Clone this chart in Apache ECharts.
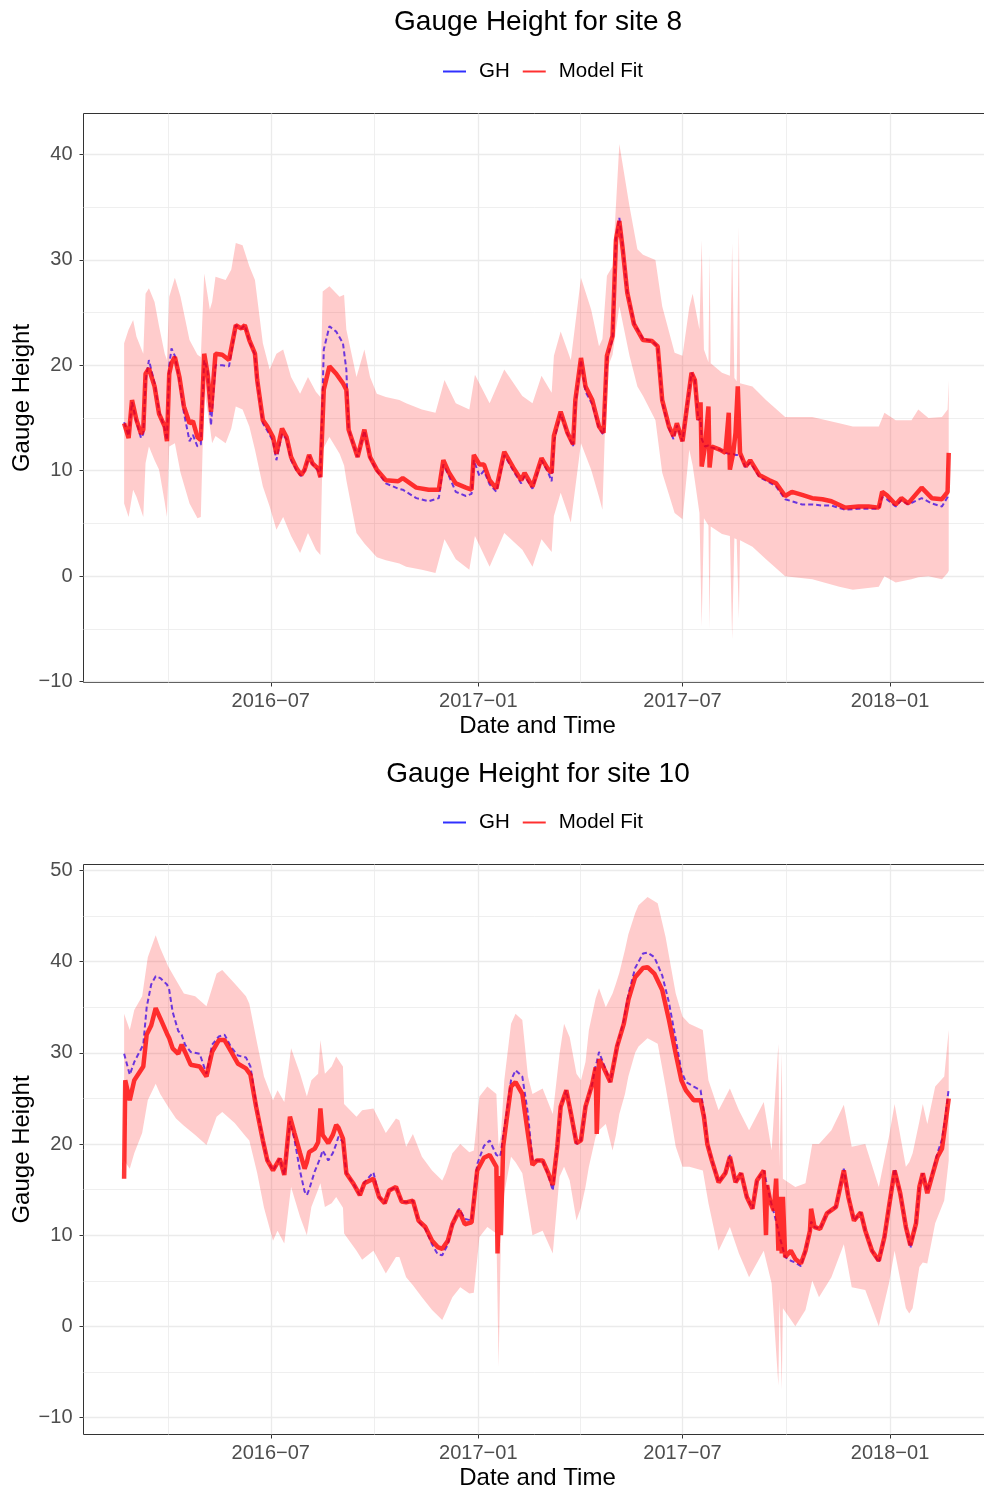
<!DOCTYPE html>
<html>
<head>
<meta charset="utf-8">
<title>Gauge Height</title>
<script src="https://cdn.jsdelivr.net/npm/echarts@6/dist/echarts.min.js"></script>
<style>
    html, body { margin: 0; padding: 0; background: #ffffff; }
    #chart { width: 984px; height: 1491px; }
</style>
</head>
<body>
<div id="chart"></div>
<script>
// ---- site 8 : gauge height and model fit ----
var site8Dates = [
    '2016-02-22', '2016-02-26', '2016-02-29', '2016-03-04', '2016-03-08', '2016-03-10', '2016-03-12', '2016-03-15', '2016-03-20', '2016-03-24',
    '2016-03-29', '2016-03-31', '2016-04-02', '2016-04-04', '2016-04-07', '2016-04-11', '2016-04-15', '2016-04-20', '2016-04-23', '2016-04-27',
    '2016-04-30', '2016-05-03', '2016-05-06', '2016-05-09', '2016-05-13', '2016-05-19', '2016-05-25', '2016-05-31', '2016-06-05', '2016-06-08',
    '2016-06-12', '2016-06-17', '2016-06-19', '2016-06-24', '2016-06-28', '2016-07-03', '2016-07-06', '2016-07-11', '2016-07-15', '2016-07-19',
    '2016-07-24', '2016-07-28', '2016-07-31', '2016-08-04', '2016-08-07', '2016-08-12', '2016-08-14', '2016-08-17', '2016-08-22', '2016-08-28',
    '2016-09-03', '2016-09-06', '2016-09-08', '2016-09-12', '2016-09-16', '2016-09-22', '2016-09-27', '2016-10-03', '2016-10-11', '2016-10-22',
    '2016-10-26', '2016-11-07', '2016-11-18', '2016-11-27', '2016-12-01', '2016-12-06', '2016-12-12', '2016-12-21', '2016-12-26', '2016-12-28',
    '2017-01-02', '2017-01-06', '2017-01-11', '2017-01-17', '2017-01-24', '2017-02-01', '2017-02-08', '2017-02-11', '2017-02-18', '2017-02-26',
    '2017-03-04', '2017-03-07', '2017-03-09', '2017-03-15', '2017-03-21', '2017-03-26', '2017-03-28', '2017-04-02', '2017-04-06', '2017-04-12',
    '2017-04-18', '2017-04-22', '2017-04-25', '2017-04-30', '2017-05-03', '2017-05-06', '2017-05-09', '2017-05-13', '2017-05-19', '2017-05-27',
    '2017-06-04', '2017-06-09', '2017-06-13', '2017-06-19', '2017-06-23', '2017-06-26', '2017-07-01', '2017-07-05', '2017-07-09', '2017-07-12',
    '2017-07-15', '2017-07-17', '2017-07-18', '2017-07-21', '2017-07-24', '2017-07-25', '2017-07-27', '2017-08-03', '2017-08-08', '2017-08-11',
    '2017-08-12', '2017-08-15', '2017-08-17', '2017-08-19', '2017-08-21', '2017-08-26', '2017-08-30', '2017-09-07', '2017-09-16', '2017-09-22',
    '2017-09-30', '2017-10-06', '2017-10-15', '2017-10-24', '2017-11-02', '2017-11-10', '2017-11-22', '2017-12-04', '2017-12-13', '2017-12-22',
    '2017-12-25', '2017-12-29', '2018-01-06', '2018-01-11', '2018-01-17', '2018-01-29', '2018-02-07', '2018-02-16', '2018-02-21', '2018-02-22'
];
var site8Fit = [
    14.5, 13.1, 16.7, 14.8, 13.5, 13.9, 19.2, 19.7, 18.0, 15.4,
    14.2, 12.8, 19.2, 20.2, 20.8, 18.9, 16.1, 14.5, 14.7, 13.2,
    12.9, 21.1, 19.2, 15.6, 21.1, 21.0, 20.5, 23.8, 23.5, 23.8,
    22.4, 21.1, 18.6, 14.8, 14.2, 13.2, 11.6, 14.0, 13.2, 11.3,
    10.2, 9.6, 10.1, 11.5, 10.7, 10.2, 9.4, 17.7, 19.9, 19.2,
    18.3, 17.7, 13.9, 12.6, 11.3, 13.9, 11.3, 10.1, 9.1, 9.0,
    9.3, 8.4, 8.2, 8.2, 11.0, 9.8, 8.8, 8.4, 8.2, 11.5,
    10.6, 10.6, 9.1, 8.3, 11.8, 10.3, 9.1, 9.8, 8.5, 11.2,
    10.1, 9.8, 13.3, 15.6, 13.6, 12.5, 16.7, 20.7, 18.0, 16.7,
    14.2, 13.6, 20.9, 22.8, 31.9, 33.7, 31.0, 26.9, 23.9, 22.4,
    22.3, 21.8, 16.7, 14.2, 13.3, 14.5, 12.8, 16.1, 19.3, 18.6,
    14.8, 16.5, 10.4, 12.3, 16.1, 10.3, 12.3, 12.0, 11.7, 15.5,
    10.1, 11.7, 13.6, 18.0, 11.7, 10.4, 11.0, 9.6, 9.1, 8.8,
    7.6, 8.0, 7.7, 7.4, 7.3, 7.1, 6.5, 6.6, 6.6, 6.5,
    8.0, 7.7, 6.8, 7.4, 6.9, 8.4, 7.4, 7.3, 8.0, 11.7
];
var site8GH = [
    14.6, 13.3, 16.5, 14.6, 13.1, 13.5, 18.5, 20.5, 18.3, 15.6,
    14.0, 12.9, 20.0, 21.6, 20.9, 18.6, 15.5, 12.8, 13.4, 12.3,
    12.5, 20.5, 19.5, 14.3, 20.0, 20.0, 19.9, 23.8, 23.5, 23.8,
    22.3, 21.0, 18.5, 14.5, 13.8, 12.8, 11.0, 13.5, 13.0, 11.0,
    10.0, 9.5, 10.0, 11.4, 10.6, 10.0, 9.4, 21.5, 23.7, 23.2,
    22.1, 19.6, 14.0, 12.5, 11.3, 13.8, 11.2, 10.0, 8.8, 8.3,
    8.2, 7.4, 7.1, 7.4, 10.6, 9.5, 8.0, 7.6, 7.8, 11.0,
    9.5, 10.0, 8.7, 8.0, 11.5, 10.0, 8.8, 9.5, 8.3, 11.0,
    9.8, 9.0, 12.8, 15.4, 13.5, 12.3, 16.3, 20.5, 17.5, 16.3,
    14.0, 13.4, 20.6, 22.5, 32.0, 34.0, 31.2, 27.0, 24.0, 22.5,
    22.3, 21.8, 16.5, 14.0, 13.0, 14.3, 12.8, 16.1, 19.3, 18.6,
    14.8, 15.0, 13.0, 12.3, 12.4, 12.2, 12.2, 12.0, 11.7, 11.6,
    11.6, 11.6, 11.5, 11.5, 11.5, 10.3, 10.8, 9.4, 8.9, 8.5,
    7.3, 7.1, 6.8, 6.8, 6.7, 6.7, 6.3, 6.4, 6.4, 6.4,
    7.5, 7.3, 6.6, 7.2, 6.8, 7.4, 6.9, 6.6, 7.5, 7.8
];
// prediction band for site 8
var site8BandDates = [
    '2016-02-22', '2016-02-26', '2016-03-01', '2016-03-04', '2016-03-10', '2016-03-12', '2016-03-15', '2016-03-20', '2016-03-24', '2016-03-29',
    '2016-03-31', '2016-04-02', '2016-04-07', '2016-04-12', '2016-04-20', '2016-04-27', '2016-04-30', '2016-05-03', '2016-05-08', '2016-05-10',
    '2016-05-13', '2016-05-22', '2016-05-27', '2016-05-31', '2016-06-06', '2016-06-12', '2016-06-17', '2016-06-24', '2016-06-30', '2016-07-06',
    '2016-07-12', '2016-07-19', '2016-07-27', '2016-08-03', '2016-08-10', '2016-08-14', '2016-08-16', '2016-08-22', '2016-08-31', '2016-09-04',
    '2016-09-06', '2016-09-15', '2016-09-22', '2016-09-27', '2016-10-03', '2016-10-11', '2016-10-23', '2016-10-29', '2016-11-12', '2016-11-24',
    '2016-12-02', '2016-12-12', '2016-12-24', '2016-12-29', '2017-01-11', '2017-01-24', '2017-02-09', '2017-02-18', '2017-02-26', '2017-03-07',
    '2017-03-09', '2017-03-15', '2017-03-24', '2017-04-02', '2017-04-11', '2017-04-18', '2017-04-21', '2017-04-25', '2017-04-30', '2017-05-06',
    '2017-05-15', '2017-05-22', '2017-05-27', '2017-06-07', '2017-06-13', '2017-06-24', '2017-07-01', '2017-07-07', '2017-07-10', '2017-07-16',
    '2017-07-18', '2017-07-20', '2017-07-24', '2017-07-25', '2017-07-26', '2017-08-05', '2017-08-12', '2017-08-14', '2017-08-16', '2017-08-18',
    '2017-08-20', '2017-08-21', '2017-09-01', '2017-09-13', '2017-09-30', '2017-10-24', '2017-11-17', '2017-11-29', '2017-12-22', '2017-12-27',
    '2018-01-06', '2018-01-20', '2018-01-26', '2018-02-04', '2018-02-16', '2018-02-21', '2018-02-22'
];
var site8Lower = [
    6.9, 5.6, 8.2, 7.5, 5.6, 10.7, 12.3, 11.0, 10.1, 7.0,
    5.6, 12.3, 12.6, 9.8, 6.9, 5.5, 5.6, 17.7, 14.2, 12.6,
    13.3, 12.6, 14.0, 16.1, 15.8, 14.2, 12.0, 8.5, 6.6, 4.4,
    5.6, 3.8, 2.2, 4.1, 2.5, 2.0, 12.0, 13.2, 11.6, 10.5,
    9.1, 4.1, 3.1, 2.5, 1.8, 1.5, 1.2, 0.9, 0.6, 0.3,
    3.5, 1.6, 0.6, 3.8, 0.9, 4.1, 2.5, 0.9, 3.5, 2.3,
    5.7, 7.9, 5.1, 12.6, 10.1, 7.5, 6.3, 19.6, 21.0, 25.6,
    20.9, 18.0, 17.1, 14.8, 9.8, 6.0, 5.4, 12.0, 10.5, 6.0,
    -4.8, 5.5, 4.8, -5.1, 4.7, 4.0, 3.8, -6.0, 3.6, 3.5,
    -4.1, 3.4, 2.8, 1.6, 0.0, -0.3, -1.0, -1.3, -1.0, 0.0,
    -0.6, -0.3, -0.1, 0.0, -0.3, 0.3, 0.5
];
var site8Upper = [
    22.1, 23.4, 24.3, 22.7, 21.1, 26.8, 27.3, 26.0, 23.7, 21.1,
    20.5, 26.5, 28.3, 26.5, 22.4, 21.0, 20.8, 28.7, 25.3, 26.0,
    28.4, 28.1, 29.1, 31.6, 31.4, 29.4, 28.1, 22.1, 19.6, 21.1,
    21.5, 18.9, 17.3, 18.9, 17.5, 17.0, 27.0, 27.5, 26.5, 26.7,
    23.4, 18.9, 21.5, 18.9, 17.3, 17.0, 16.7, 16.4, 15.8, 15.5,
    18.6, 16.4, 15.8, 19.1, 16.4, 19.6, 17.1, 16.4, 19.0, 17.4,
    20.9, 23.2, 20.5, 28.3, 25.3, 21.8, 22.5, 28.5, 29.4, 41.0,
    35.1, 31.0, 30.5, 30.0, 25.6, 21.2, 20.9, 25.5, 26.8, 23.4,
    31.9, 21.5, 20.3, 30.6, 20.2, 19.3, 19.0, 31.6, 18.8, 18.5,
    33.2, 18.3, 18.0, 16.7, 15.1, 15.1, 14.5, 14.2, 14.2, 15.5,
    14.8, 14.8, 15.8, 15.0, 15.1, 15.8, 18.6
];

// ---- site 10 : gauge height and model fit ----
var site10Dates = [
    '2016-02-22', '2016-02-23', '2016-02-27', '2016-03-02', '2016-03-10', '2016-03-13', '2016-03-17', '2016-03-21', '2016-03-25', '2016-03-31',
    '2016-04-02', '2016-04-05', '2016-04-10', '2016-04-13', '2016-04-16', '2016-04-21', '2016-04-29', '2016-05-05', '2016-05-10', '2016-05-16',
    '2016-05-21', '2016-05-27', '2016-06-02', '2016-06-09', '2016-06-13', '2016-06-18', '2016-06-24', '2016-06-28', '2016-07-03', '2016-07-09',
    '2016-07-13', '2016-07-18', '2016-07-22', '2016-07-27', '2016-07-31', '2016-08-02', '2016-08-04', '2016-08-09', '2016-08-12', '2016-08-14',
    '2016-08-16', '2016-08-21', '2016-08-25', '2016-08-28', '2016-08-30', '2016-09-03', '2016-09-06', '2016-09-12', '2016-09-18', '2016-09-22',
    '2016-09-30', '2016-10-05', '2016-10-10', '2016-10-14', '2016-10-20', '2016-10-25', '2016-10-29', '2016-11-04', '2016-11-09', '2016-11-15',
    '2016-11-21', '2016-11-26', '2016-11-30', '2016-12-05', '2016-12-09', '2016-12-15', '2016-12-20', '2016-12-26', '2016-12-31', '2017-01-06',
    '2017-01-11', '2017-01-17', '2017-01-18', '2017-01-20', '2017-01-21', '2017-01-23', '2017-01-26', '2017-01-30', '2017-02-03', '2017-02-09',
    '2017-02-14', '2017-02-18', '2017-02-22', '2017-02-27', '2017-03-04', '2017-03-08', '2017-03-12', '2017-03-15', '2017-03-20', '2017-03-24',
    '2017-03-29', '2017-04-02', '2017-04-06', '2017-04-12', '2017-04-15', '2017-04-16', '2017-04-18', '2017-04-22', '2017-04-28', '2017-05-04',
    '2017-05-10', '2017-05-14', '2017-05-20', '2017-05-27', '2017-05-31', '2017-06-06', '2017-06-13', '2017-06-19', '2017-06-25', '2017-06-30',
    '2017-07-04', '2017-07-11', '2017-07-17', '2017-07-20', '2017-07-23', '2017-07-27', '2017-08-02', '2017-08-08', '2017-08-12', '2017-08-17',
    '2017-08-22', '2017-08-27', '2017-09-01', '2017-09-05', '2017-09-11', '2017-09-13', '2017-09-14', '2017-09-17', '2017-09-20', '2017-09-22',
    '2017-09-24', '2017-09-25', '2017-09-27', '2017-09-28', '2017-09-30', '2017-10-05', '2017-10-09', '2017-10-14', '2017-10-18', '2017-10-22',
    '2017-10-23', '2017-10-26', '2017-10-31', '2017-11-06', '2017-11-14', '2017-11-21', '2017-11-25', '2017-11-30', '2017-12-06', '2017-12-10',
    '2017-12-16', '2017-12-22', '2017-12-27', '2017-12-31', '2018-01-05', '2018-01-10', '2018-01-15', '2018-01-19', '2018-01-24', '2018-01-27',
    '2018-01-30', '2018-02-03', '2018-02-07', '2018-02-12', '2018-02-16', '2018-02-19', '2018-02-22'
];
var site10Fit = [
    16.2, 27.0, 24.8, 27.0, 28.5, 32.0, 33.0, 34.9, 33.8, 32.1,
    31.6, 30.5, 29.9, 30.9, 30.1, 28.7, 28.5, 27.4, 30.1, 31.4,
    31.4, 30.1, 28.8, 28.3, 27.6, 24.1, 20.4, 18.2, 17.1, 18.4,
    16.6, 23.0, 21.2, 19.0, 17.3, 18.0, 19.1, 19.5, 20.2, 23.9,
    21.0, 20.1, 21.0, 22.1, 21.8, 20.6, 16.8, 15.7, 14.4, 15.7,
    16.2, 14.2, 13.5, 14.9, 15.3, 13.7, 13.6, 13.8, 11.6, 10.9,
    9.4, 8.7, 8.5, 9.4, 11.2, 12.7, 11.2, 11.4, 17.1, 18.5,
    18.8, 17.5, 8.0, 16.5, 10.0, 19.7, 22.6, 26.3, 26.8, 25.5,
    21.1, 17.7, 18.2, 18.2, 16.8, 15.5, 19.7, 24.1, 25.9, 23.4,
    20.1, 20.4, 24.1, 26.6, 28.4, 21.1, 29.3, 28.4, 26.8, 30.7,
    33.2, 35.8, 38.3, 39.3, 39.4, 38.7, 36.9, 33.6, 29.9, 27.0,
    25.9, 24.8, 24.8, 23.0, 20.0, 18.2, 15.8, 16.8, 18.6, 15.8,
    16.8, 14.2, 12.9, 16.0, 17.1, 10.0, 15.5, 13.6, 12.7, 16.2,
    8.3, 14.2, 8.0, 14.2, 7.6, 8.3, 7.4, 6.9, 8.3, 10.5,
    12.9, 10.9, 10.7, 12.4, 13.1, 17.1, 14.2, 11.6, 12.5, 10.5,
    8.3, 7.2, 9.8, 13.1, 17.1, 14.6, 10.9, 8.9, 11.3, 15.3,
    16.8, 14.6, 16.4, 18.6, 19.5, 22.2, 25.0
];
var site10GH = [
    29.9, 29.9, 27.6, 29.0, 30.9, 35.0, 37.5, 38.4, 38.2, 37.5,
    36.9, 34.5, 32.4, 32.0, 30.9, 30.1, 29.9, 27.7, 30.9, 31.8,
    32.0, 30.6, 29.7, 29.5, 28.5, 24.4, 20.4, 18.2, 17.1, 18.4,
    16.6, 22.5, 20.5, 17.0, 14.8, 14.4, 15.0, 17.0, 17.9, 18.5,
    19.3, 18.2, 19.0, 20.0, 20.8, 20.2, 16.8, 15.7, 14.4, 15.8,
    16.9, 14.2, 13.5, 14.9, 15.3, 13.7, 13.6, 13.8, 11.5, 10.7,
    9.0, 7.9, 7.8, 9.0, 11.2, 12.9, 11.8, 11.6, 17.8, 19.8,
    20.4, 18.8, 18.6, 18.6, 19.0, 21.0, 23.3, 27.0, 28.1, 27.4,
    23.3, 18.2, 18.2, 18.2, 16.6, 14.9, 19.7, 24.1, 25.9, 23.4,
    20.0, 20.4, 24.1, 26.6, 28.6, 29.0, 30.1, 28.8, 26.8, 30.7,
    33.6, 36.4, 39.3, 40.9, 41.0, 40.5, 38.5, 35.5, 31.5, 28.0,
    26.8, 26.3, 25.9, 23.5, 20.2, 18.2, 15.8, 16.8, 18.8, 15.8,
    16.8, 14.2, 12.9, 16.0, 17.1, 16.0, 15.5, 13.8, 12.5, 11.5,
    10.5, 9.8, 9.0, 8.5, 7.6, 7.2, 7.0, 6.6, 8.3, 10.5,
    11.5, 10.9, 10.7, 12.4, 13.1, 17.3, 14.2, 11.6, 12.5, 10.5,
    8.3, 7.0, 9.8, 13.1, 17.3, 14.6, 10.9, 8.6, 11.3, 15.3,
    16.8, 14.8, 16.6, 19.0, 20.5, 23.0, 26.1
];
// prediction band for site 10
var site10BandDates = [
    '2016-02-22', '2016-02-27', '2016-03-02', '2016-03-09', '2016-03-14', '2016-03-21', '2016-03-25', '2016-04-01', '2016-04-08', '2016-04-15',
    '2016-04-25', '2016-05-05', '2016-05-14', '2016-05-19', '2016-05-30', '2016-06-09', '2016-06-12', '2016-06-19', '2016-06-25', '2016-07-03',
    '2016-07-07', '2016-07-13', '2016-07-19', '2016-07-27', '2016-08-02', '2016-08-06', '2016-08-12', '2016-08-14', '2016-08-18', '2016-08-24',
    '2016-08-28', '2016-09-03', '2016-09-04', '2016-09-15', '2016-09-20', '2016-09-30', '2016-10-11', '2016-10-20', '2016-10-23', '2016-10-29',
    '2016-11-04', '2016-11-12', '2016-11-21', '2016-11-30', '2016-12-03', '2016-12-09', '2016-12-16', '2016-12-24', '2016-12-28', '2017-01-02',
    '2017-01-09', '2017-01-17', '2017-01-19', '2017-01-21', '2017-01-24', '2017-01-30', '2017-02-03', '2017-02-09', '2017-02-14', '2017-02-18',
    '2017-02-27', '2017-03-08', '2017-03-14', '2017-03-18', '2017-03-23', '2017-03-29', '2017-04-02', '2017-04-06', '2017-04-09', '2017-04-15',
    '2017-04-18', '2017-04-24', '2017-04-30', '2017-05-03', '2017-05-06', '2017-05-11', '2017-05-14', '2017-05-20', '2017-05-23', '2017-05-31',
    '2017-06-09', '2017-06-16', '2017-06-25', '2017-07-01', '2017-07-07', '2017-07-19', '2017-07-24', '2017-08-02', '2017-08-12', '2017-08-20',
    '2017-08-29', '2017-09-11', '2017-09-18', '2017-09-24', '2017-09-25', '2017-09-27', '2017-09-28', '2017-10-09', '2017-10-18', '2017-10-24',
    '2017-10-30', '2017-11-10', '2017-11-21', '2017-11-28', '2017-12-10', '2017-12-22', '2017-12-31', '2018-01-05', '2018-01-15', '2018-01-18',
    '2018-01-21', '2018-01-27', '2018-01-30', '2018-02-03', '2018-02-10', '2018-02-18', '2018-02-22'
];
var site10Lower = [
    18.2, 17.3, 19.0, 21.2, 24.8, 26.6, 25.5, 24.1, 22.8, 22.0,
    21.0, 19.9, 23.0, 23.5, 22.3, 20.8, 20.4, 16.8, 13.0, 9.4,
    10.5, 9.1, 15.3, 12.0, 10.0, 13.1, 15.0, 15.7, 13.1, 13.5,
    14.2, 13.0, 10.2, 8.3, 7.3, 8.3, 5.8, 7.6, 7.6, 5.4,
    4.5, 3.2, 1.8, 0.7, 1.5, 3.2, 4.3, 3.6, 3.7, 9.8,
    10.9, 10.2, -4.5, 10.0, 14.6, 18.6, 18.0, 16.8, 13.0, 10.0,
    10.5, 8.0, 16.4, 17.5, 16.0, 11.6, 13.0, 15.3, 17.5, 20.8,
    21.5, 22.2, 19.3, 21.0, 23.3, 25.5, 27.4, 30.0, 30.7, 31.6,
    31.0, 26.3, 19.7, 17.5, 17.5, 17.1, 13.5, 8.3, 10.9, 8.0,
    5.4, 8.3, 4.7, -6.5, 3.0, -7.0, 2.0, 0.0, 1.8, 5.0,
    3.2, 5.4, 9.0, 4.3, 4.0, 0.0, 4.7, 8.3, 2.0, 1.4,
    2.0, 6.5, 7.0, 6.9, 11.3, 13.8, 18.2
];
var site10Upper = [
    34.3, 32.5, 34.7, 36.2, 40.5, 42.9, 41.5, 39.5, 38.0, 36.5,
    36.2, 35.1, 38.7, 39.1, 37.6, 36.2, 35.4, 31.0, 27.4, 24.8,
    25.9, 24.6, 30.5, 27.7, 25.2, 27.0, 27.7, 31.4, 27.7, 28.5,
    29.6, 28.5, 24.4, 23.0, 23.7, 23.9, 21.2, 22.8, 22.6, 19.7,
    21.1, 18.6, 17.1, 16.0, 16.8, 19.0, 20.0, 19.1, 19.3, 25.2,
    26.3, 25.5, 19.7, 21.0, 27.0, 33.2, 34.3, 33.6, 27.4, 25.5,
    26.1, 23.3, 29.9, 33.2, 31.7, 27.7, 27.0, 29.0, 32.5, 36.0,
    37.1, 35.0, 36.5, 37.6, 38.8, 41.3, 43.0, 45.3, 46.2, 47.1,
    46.4, 42.7, 36.5, 34.0, 33.2, 32.5, 27.0, 23.7, 26.1, 23.7,
    21.5, 24.6, 19.3, 31.0, 17.5, 30.0, 16.2, 15.3, 15.7, 20.0,
    20.0, 21.5, 24.3, 19.7, 20.0, 15.3, 20.8, 24.4, 17.5, 18.0,
    19.0, 22.5, 24.4, 22.2, 26.3, 27.4, 32.5
];

// ---- axes ----
var xMajorTicks = ['2016-07-01', '2017-01-01', '2017-07-01', '2018-01-01'];
var xMinorTicks = ['2016-04-01', '2016-10-01', '2017-04-01', '2017-10-01'];
var site8YTicks = [-10, 0, 10, 20, 30, 40];
var site8YMinor = [-5, 5, 15, 25, 35];
var site10YTicks = [-10, 0, 10, 20, 30, 40, 50];
var site10YMinor = [-5, 5, 15, 25, 35, 45];

var X_MIN = '2016-01-17';
var X_MAX = '2018-04-08';
var FONT = '"Liberation Sans", Arial, Helvetica, sans-serif';
var GRID_LINE = '#EBEBEB';
var GH_COLOR = 'rgba(70, 15, 225, 0.8)';
var FIT_COLOR = 'rgba(255, 0, 0, 0.78)';

// dates are read as UTC midnight; the same millisecond values feed the time axis and the tick axes
function toTime(s) {
    return Date.parse(s + 'T00:00:00Z');
}

function pairs(dates, values) {
    return dates.map(function (d, i) { return [toTime(d), values[i]]; });
}

function bandSpread(lower, upper) {
    return upper.map(function (u, i) { return Math.round((u - lower[i]) * 100) / 100; });
}

function dateLabel(value) {
    var d = new Date(value);
    var m = d.getUTCMonth() + 1;
    return d.getUTCFullYear() + '\u2212' + (m < 10 ? '0' + m : m);
}

function numLabel(value) {
    return value < 0 ? '\u2212' + Math.abs(value) : String(value);
}

// per grid: a hidden time axis carrying the series, then a value axis for major ticks/labels and one for minor grid lines
function xAxes(gridIndex) {
    var min = toTime(X_MIN), max = toTime(X_MAX);
    return [{
        type: 'time',
        gridIndex: gridIndex,
        min: min,
        max: max,
        axisLine: { show: false, onZero: false },
        axisTick: { show: false },
        axisLabel: { show: false },
        splitLine: { show: false }
    }, {
        type: 'value',
        gridIndex: gridIndex,
        position: 'bottom',
        min: min,
        max: max,
        axisLine: { show: false, onZero: false },
        axisTick: { show: true, customValues: xMajorTicks.map(toTime), length: 4, lineStyle: { color: '#333333', width: 1 } },
        axisLabel: { customValues: xMajorTicks.map(toTime), formatter: dateLabel, color: '#4D4D4D', fontSize: 20, margin: 9, fontFamily: FONT },
        splitLine: { show: true, lineStyle: { color: GRID_LINE, width: 1.3 } },
        name: 'Date and Time',
        nameLocation: 'middle',
        nameGap: 32,
        nameTextStyle: { color: '#000000', fontSize: 24, fontFamily: FONT, padding: [0, 8, 0, 0] }
    }, {
        type: 'value',
        gridIndex: gridIndex,
        position: 'bottom',
        min: min,
        max: max,
        axisLine: { show: false, onZero: false },
        axisTick: { show: false, customValues: xMinorTicks.map(toTime) },
        axisLabel: { show: false },
        splitLine: { show: true, lineStyle: { color: GRID_LINE, width: 0.8 } }
    }];
}

function yAxes(gridIndex, min, max, ticks, minor) {
    return [{
        type: 'value',
        gridIndex: gridIndex,
        min: min,
        max: max,
        axisLine: { show: false, onZero: false },
        axisTick: { show: true, customValues: ticks, length: 4, lineStyle: { color: '#333333', width: 1 } },
        axisLabel: { customValues: ticks, formatter: numLabel, color: '#4D4D4D', fontSize: 20, margin: 11, fontFamily: FONT },
        splitLine: { show: true, lineStyle: { color: GRID_LINE, width: 1.3 } },
        name: 'Gauge Height',
        nameLocation: 'middle',
        nameGap: 49,
        nameMoveOverlap: false,
        nameTextStyle: { color: '#000000', fontSize: 24, fontFamily: FONT }
    }, {
        type: 'value',
        gridIndex: gridIndex,
        position: 'left',
        min: min,
        max: max,
        axisLine: { show: false, onZero: false },
        axisTick: { show: false, customValues: minor },
        axisLabel: { show: false },
        splitLine: { show: true, lineStyle: { color: GRID_LINE, width: 0.8 } }
    }];
}

function panelSeries(panel, dates, gh, fit, bandDates, lower, upper) {
    var xi = panel * 3, yi = panel * 2;
    var stackName = 'band' + panel;
    return [{
        name: 'lower',
        type: 'line',
        xAxisIndex: xi, yAxisIndex: yi,
        data: pairs(bandDates, lower),
        stack: stackName, stackStrategy: 'all',
        symbol: 'none', silent: true,
        lineStyle: { opacity: 0 }
    }, {
        name: 'band',
        type: 'line',
        xAxisIndex: xi, yAxisIndex: yi,
        data: pairs(bandDates, bandSpread(lower, upper)),
        stack: stackName, stackStrategy: 'all',
        symbol: 'none', silent: true,
        lineStyle: { opacity: 0 },
        areaStyle: { color: 'rgba(255, 0, 0, 0.2)', opacity: 1 }
    }, {
        name: 'GH',
        type: 'line',
        xAxisIndex: xi, yAxisIndex: yi,
        data: pairs(dates, gh),
        symbol: 'none',
        itemStyle: { color: GH_COLOR },
        lineStyle: { color: GH_COLOR, width: 2, type: [5, 3] }
    }, {
        name: 'Model Fit',
        type: 'line',
        xAxisIndex: xi, yAxisIndex: yi,
        data: pairs(dates, fit),
        symbol: 'none',
        itemStyle: { color: FIT_COLOR },
        lineStyle: { color: FIT_COLOR, width: 4.5 }
    }];
}

function legendAt(top) {
    return {
        data: [
            { name: 'GH', itemStyle: { color: '#3030ff' } },
            { name: 'Model Fit', itemStyle: { color: '#ff3030' } }
        ],
        left: 443,
        top: top,
        padding: 0,
        icon: 'rect',
        itemWidth: 23,
        itemHeight: 2,
        itemGap: 13,
        textStyle: { fontSize: 20.5, color: '#000000', fontFamily: FONT, padding: [0, 0, 0, 8] }
    };
}

function titleAt(text, top) {
    return {
        text: text,
        left: 538,
        top: top,
        textAlign: 'center',
        padding: 0,
        textStyle: { fontSize: 28, fontWeight: 'normal', color: '#000000', fontFamily: FONT }
    };
}

var chart = echarts.init(document.getElementById('chart'), null, { renderer: 'canvas' });
var option = {
    animation: false,
    backgroundColor: '#ffffff',
    textStyle: { fontFamily: FONT },
    title: [
        titleAt('Gauge Height for site 8', 8),
        titleAt('Gauge Height for site 10', 760)
    ],
    legend: [legendAt(61), legendAt(812)],
    // half-pixel offsets keep the 1px panel border crisp
    grid: [
        { left: 83.5, top: 113.5, width: 916, height: 569, outerBoundsMode: 'none', containLabel: false,
          show: true, borderColor: '#333333', borderWidth: 1, backgroundColor: '#ffffff' },
        { left: 83.5, top: 864.5, width: 916, height: 570, outerBoundsMode: 'none', containLabel: false,
          show: true, borderColor: '#333333', borderWidth: 1, backgroundColor: '#ffffff' }
    ],
    xAxis: xAxes(0).concat(xAxes(1)),
    yAxis: yAxes(0, -10.09, 43.89, site8YTicks, site8YMinor)
        .concat(yAxes(1, -11.86, 50.66, site10YTicks, site10YMinor)),
    series: panelSeries(0, site8Dates, site8GH, site8Fit, site8BandDates, site8Lower, site8Upper)
        .concat(panelSeries(1, site10Dates, site10GH, site10Fit, site10BandDates, site10Lower, site10Upper))
};
chart.setOption(option);
</script>
</body>
</html>
